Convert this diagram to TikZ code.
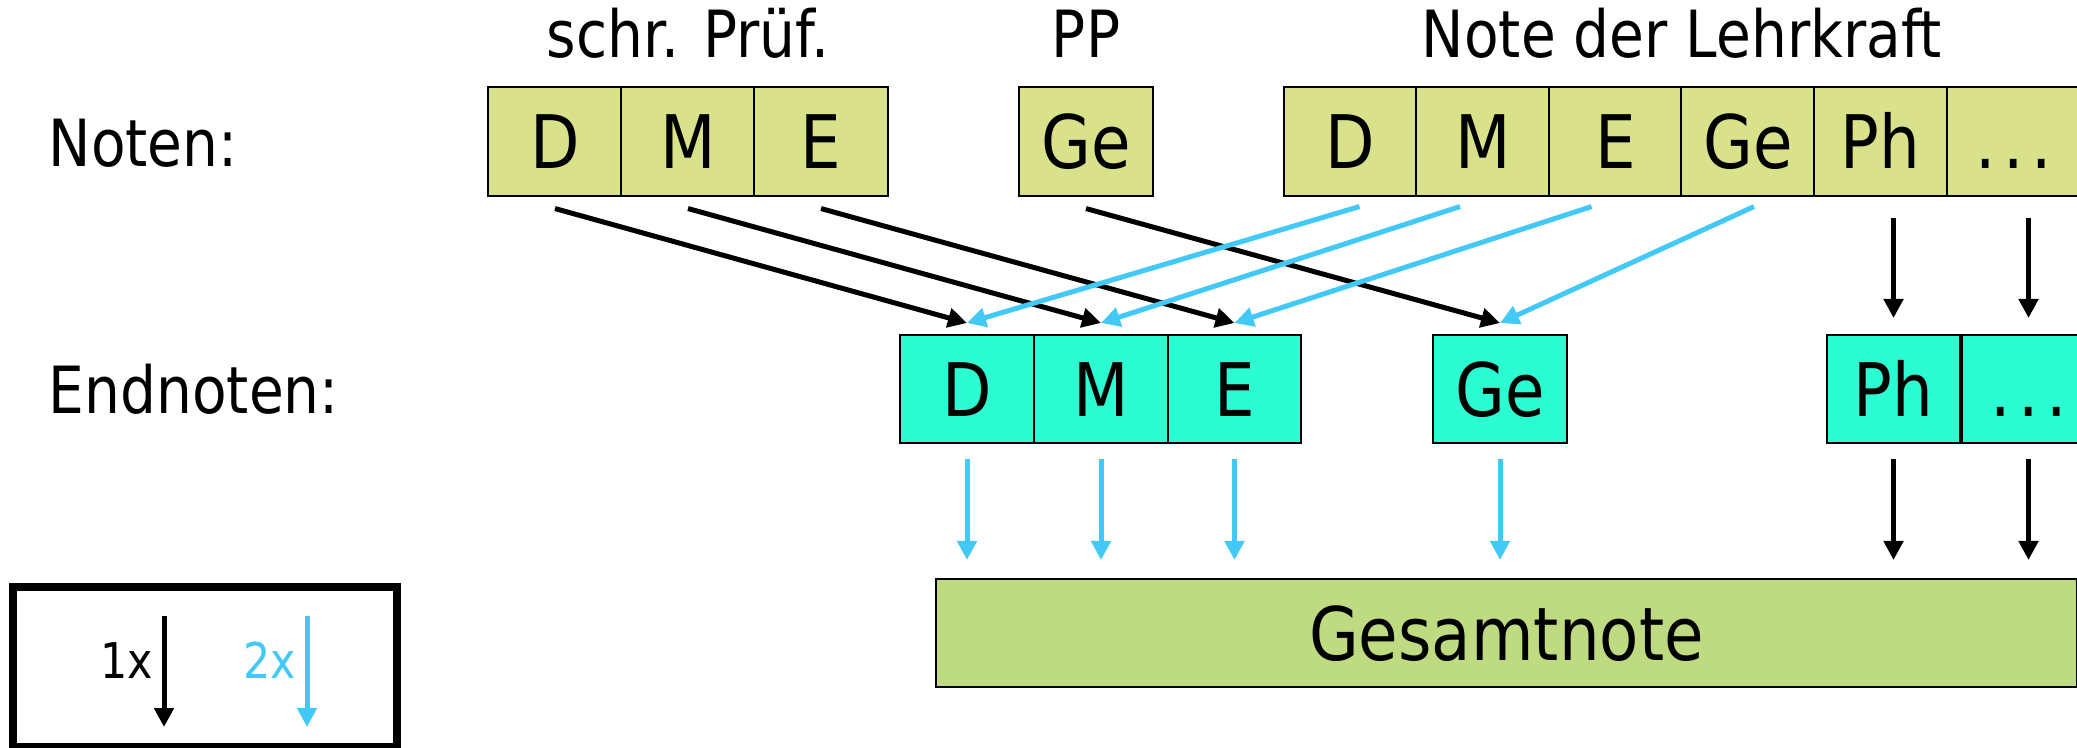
\documentclass[tikz,border=0pt]{standalone}
\usepackage{fontspec}
\setmainfont[FakeStretch=0.87]{DejaVu Sans}
\usepackage{tikz}
\usetikzlibrary{arrows.meta,calc}

\definecolor{notegelb}{RGB}{217,225,139}
\definecolor{endtuerkis}{RGB}{44,252,210}
\definecolor{gesamtgruen}{RGB}{190,219,130}
\definecolor{zweifach}{RGB}{66,201,247}

\newcommand{\punkte}{.\kern0.1em.\kern0.1em.}

\tikzset{
  fach/.style={draw, line width=0.02cm, inner sep=0pt, outer sep=0pt,
    minimum width=1.335cm, minimum height=1.08cm,
    text height=0.54cm, text depth=0pt, font=\fontsize{21}{25}\selectfont},
  notenfach/.style={fach, fill=notegelb},
  endfach/.style={fach, fill=endtuerkis},
  titel/.style={inner sep=0pt, anchor=base, font=\fontsize{18.5}{22}\selectfont},
  legtext/.style={inner sep=0pt, anchor=base east, font=\fontsize{14}{17}\selectfont},
  pfeil1/.style={-{Triangle[length=0.19cm,width=0.19cm]}, line width=0.05cm},
  pfeil2/.style={pfeil1, zweifach},
}

\begin{document}
\begin{tikzpicture}[x=0.01cm, y=-0.01cm]
\path[use as bounding box, clip] (0,0) rectangle (2077,747);

% Zeilen
\node[titel, anchor=base west] (noten) at (48,166) {Noten:};
\node[titel, anchor=base west] (endnoten) at (48,413) {Endnoten:};

% Ueberschriften
\node[titel] (schr) at (688,57) {schr. Prüf.};
\node[titel] (pp) at (1086,57) {PP};
\node[titel] (lehr) at (1682,57) {Note der Lehrkraft};

% Noten
\foreach \n/\t/\x in {sD/D/555, sM/M/688, sE/E/821, pGe/Ge/1086,
    lD/D/1350.5, lM/M/1483, lE/E/1615.5, lGe/Ge/1748, lPh/Ph/1880.5, lX/\punkte/2013.5}
  \node[notenfach] (\n) at (\x,141.5) {\t};

% Endnoten
\foreach \n/\t/\x in {eD/D/967, eM/M/1101, eE/E/1234.5, eGe/Ge/1500,
    ePh/Ph/1893.5, eX/\punkte/2028.5}
  \node[endfach] (\n) at (\x,389) {\t};

\node[fach, fill=gesamtgruen, minimum width=11.41cm] (gesamt) at (1506.5,633) {Gesamtnote};

% Noten -> Endnoten
\foreach \von/\nach in {sD/eD, sM/eM, sE/eE, pGe/eGe}
  \draw[pfeil1] ($(\von.south)+(0,13)$) -- ($(\nach.north)+(0,-12)$);
\foreach \von/\nach/\dx in {lD/eD/9, lM/eM/-23, lE/eE/-24, lGe/eGe/6}
  \draw[pfeil2] ($(\von.south)+(\dx,11)$) -- ($(\nach.north)+(0,-12)$);
\foreach \n in {Ph, X}
  \draw[pfeil1] ($(l\n.south -| e\n)+(0,22)$) -- ($(e\n.north)+(0,-17)$);

% Endnoten -> Gesamtnote
\foreach \n/\stil in {eD/pfeil2, eM/pfeil2, eE/pfeil2, eGe/pfeil2, ePh/pfeil1, eX/pfeil1}
  \draw[\stil] ($(\n.south)+(0,16)$) -- ($(gesamt.north -| \n)+(0,-19)$);

% Legende
\draw[line width=0.075cm] (13,587) rectangle (397,747);
\node[legtext] (eins) at (154,678) {1x};
\node[legtext, text=zweifach] (zwei) at (297,678) {2x};
\coordinate (einsA) at (164,616);
\coordinate (einsB) at (164,727);
\coordinate (zweiA) at (307,616);
\coordinate (zweiB) at (307,727);
\draw[pfeil1] (einsA) -- (einsB);
\draw[pfeil2] (zweiA) -- (zweiB);
\end{tikzpicture}
\end{document}
